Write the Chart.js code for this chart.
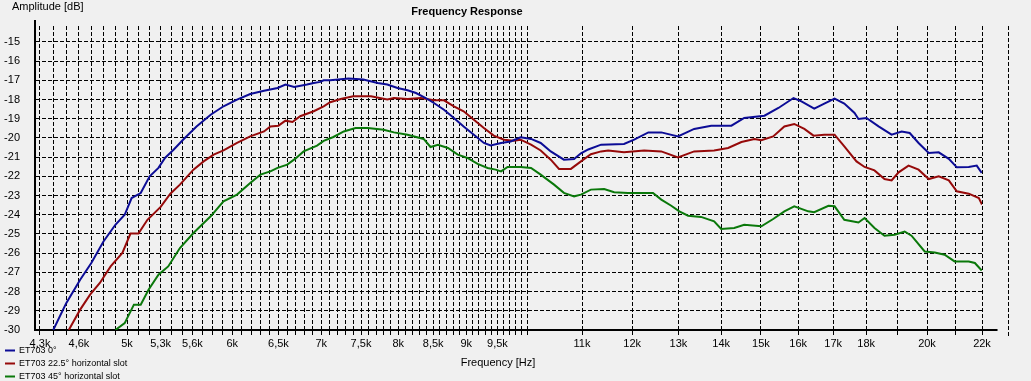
<!DOCTYPE html>
<html><head><meta charset="utf-8">
<script src="https://cdn.jsdelivr.net/npm/chart.js@4/dist/chart.umd.min.js"></script>
<style>html,body{margin:0;padding:0;background:#f0f0f0;}canvas{display:block;}</style>
</head><body>
<canvas id="c" width="1031" height="381"></canvas>
<script>
// ---- data ----
const seriesNames = ['ET703 0°', 'ET703 22.5° horizontal slot', 'ET703 45° horizontal slot'];

const freq0 = [4400,4500,4610,4700,4800,4900,4980,5040,5120,5200,5280,5340,5420,5510,5640,5780,5910,6050,6190,6340,6490,6580,6680,6830,6910,6990,7030,7110,7340,7530,7720,7850,7990,8130,8250,8390,8510,8660,8810,8960,9120,9280,9390,9560,9720,9890,10070,10240,10420,10660,10850,10980,11120,11370,11830,12040,12340,12620,12990,13360,13760,14250,14570,15090,15460,15870,16090,16450,16740,17040,17330,17640,17760,18010,18390,18810,19140,19410,19710,20060,20410,20770,21060,21500,21800,21990];
const db0   = [-30.0,-28.6,-27.38,-26.51,-25.39,-24.52,-24.0,-23.13,-22.87,-22.0,-21.56,-21.04,-20.61,-20.09,-19.40,-18.79,-18.35,-18.0,-17.71,-17.54,-17.40,-17.22,-17.34,-17.22,-17.14,-17.08,-17.0,-17.0,-16.90,-16.96,-17.14,-17.22,-17.40,-17.52,-17.66,-17.92,-18.18,-18.53,-18.96,-19.40,-19.83,-20.26,-20.39,-20.26,-20.18,-19.97,-20.05,-20.26,-20.70,-21.13,-21.10,-20.80,-20.60,-20.35,-20.31,-20.09,-19.71,-19.71,-19.92,-19.53,-19.36,-19.36,-18.96,-18.84,-18.44,-17.92,-18.09,-18.47,-18.21,-17.95,-18.21,-18.70,-19.01,-18.96,-19.40,-19.83,-19.66,-19.74,-20.26,-20.78,-20.75,-21.09,-21.53,-21.51,-21.44,-21.82];

const freq22 = [4520,4610,4690,4770,4860,4960,5030,5100,5180,5300,5390,5480,5610,5710,5810,5910,6050,6190,6340,6410,6500,6580,6660,6750,6910,7030,7110,7240,7400,7630,7850,7940,8130,8320,8510,8660,8810,8960,9120,9280,9440,9610,9770,9890,10070,10240,10420,10570,10790,10980,11170,11370,11510,11830,12250,12620,12990,13360,13830,14170,14500,14830,15010,15320,15620,15890,16170,16430,16740,17040,17330,17700,17950,18260,18580,18810,19040,19370,19710,20060,20410,20770,21060,21500,21880,22000];
const db22   = [-30.0,-28.94,-28.16,-27.55,-26.69,-25.99,-24.98,-24.98,-24.26,-23.59,-22.90,-22.43,-21.65,-21.22,-20.87,-20.65,-20.26,-19.92,-19.66,-19.40,-19.36,-19.10,-19.17,-18.87,-18.61,-18.35,-18.14,-17.97,-17.83,-17.83,-18.0,-17.92,-17.97,-17.92,-18.04,-18.04,-18.35,-18.61,-19.05,-19.48,-19.88,-20.09,-20.14,-20.09,-20.35,-20.65,-21.13,-21.61,-21.61,-21.22,-20.85,-20.70,-20.65,-20.75,-20.65,-20.70,-21.01,-20.70,-20.65,-20.52,-20.21,-20.05,-20.12,-19.92,-19.40,-19.27,-19.53,-19.88,-19.83,-19.83,-20.44,-21.22,-21.51,-21.69,-22.14,-22.21,-21.79,-21.44,-21.65,-22.14,-22.0,-22.21,-22.78,-22.90,-23.13,-23.47];

const freq45 = [4900,4980,5060,5120,5190,5280,5370,5480,5610,5780,5910,6050,6190,6300,6410,6490,6600,6690,6790,6950,7030,7150,7280,7430,7590,7800,7940,8130,8360,8460,8570,8720,8870,9020,9180,9340,9470,9560,9670,9890,10070,10240,10480,10660,10850,10980,11170,11430,11630,11910,12190,12440,12620,12840,13020,13220,13520,13830,14000,14320,14570,15010,15320,15620,15890,16280,16450,16860,17040,17330,17760,17950,18260,18580,18910,19240,19470,19920,20270,20620,20980,21500,21730,21990];
const db45   = [-30.0,-29.64,-28.68,-28.68,-27.90,-27.12,-26.69,-25.73,-24.95,-24.08,-23.30,-22.95,-22.34,-21.91,-21.74,-21.56,-21.39,-21.09,-20.70,-20.40,-20.15,-19.95,-19.66,-19.48,-19.48,-19.57,-19.71,-19.83,-20.05,-20.47,-20.35,-20.52,-20.87,-21.04,-21.35,-21.56,-21.65,-21.74,-21.51,-21.51,-21.56,-21.91,-22.43,-22.86,-23.04,-22.95,-22.69,-22.66,-22.83,-22.86,-22.86,-22.86,-23.21,-23.53,-23.82,-24.05,-24.11,-24.34,-24.74,-24.69,-24.52,-24.60,-24.22,-23.82,-23.56,-23.82,-23.87,-23.53,-23.56,-24.26,-24.40,-24.17,-24.69,-25.09,-25.04,-24.87,-25.09,-25.91,-25.96,-26.08,-26.43,-26.43,-26.51,-26.90];

// grid / tick positions on the frequency axis
const xGridTicks = [4300,4400,4500,4600,4700,4800,4900,5000,5100,5200,5300,5400,5500,5600,5700,5800,5900,6000,6100,6200,6300,6400,6500,6600,6700,6800,6900,7000,7100,7200,7300,7400,7500,7600,7700,7800,7900,8000,8100,8200,8300,8400,8500,8600,8700,8800,8900,9000,9100,9200,9300,9400,9500,9600,9700,9800,9900,10000,11000,12000,13000,14000,15000,16000,17000,18000,19000,20000,21000,22000];
const xLabelValues = [4300,4600,5000,5300,5600,6000,6500,7000,7500,8000,8500,9000,9500,11000,12000,13000,14000,15000,16000,17000,18000,20000,22000];
const xLabelTexts  = ['4,3k','4,6k','5k','5,3k','5,6k','6k','6,5k','7k','7,5k','8k','8,5k','9k','9,5k','11k','12k','13k','14k','15k','16k','17k','18k','20k','22k'];
const extraGridFreq = 23000;
const yTicks = [-30,-29,-28,-27,-26,-25,-24,-23,-22,-21,-20,-19,-18,-17,-16,-15];

const colors = ['#0c0c96', '#960a0a', '#0a780a'];
const FONT = '"Liberation Sans", Arial, sans-serif';

function pts(f, d) { return f.map((v, i) => ({x: v, y: d[i]})); }

const extras = {
  id: 'extras',
  beforeDraw(chart) {
    const ctx = chart.ctx;
    ctx.save();
    ctx.fillStyle = '#f0f0f0';
    ctx.fillRect(0, 0, chart.width, chart.height);
    ctx.restore();
  },
  afterDraw(chart) {
    const {ctx, chartArea: a, scales: {x}} = chart;
    ctx.save();
    // extra grid line beyond right edge
    const px = Math.round(x.getPixelForValue(extraGridFreq)) + 0.5;
    ctx.setLineDash([4, 2]);
    ctx.strokeStyle = '#000';
    ctx.lineWidth = 1;
    ctx.beginPath(); ctx.moveTo(px, a.top); ctx.lineTo(px, a.bottom + 6); ctx.stroke();
    // axis line extensions
    ctx.setLineDash([]);
    ctx.lineWidth = 2;
    const endX = x.getPixelForValue(22600);
    ctx.beginPath(); ctx.moveTo(a.right - 1, a.bottom); ctx.lineTo(endX, a.bottom); ctx.stroke();
    ctx.beginPath(); ctx.moveTo(a.left, a.top + 1); ctx.lineTo(a.left, a.top - 6); ctx.stroke();
    // texts
    ctx.fillStyle = '#000';
    ctx.textBaseline = 'middle';
    ctx.font = '11px ' + FONT;
    ctx.textAlign = 'left';
    ctx.fillText('Amplitude [dB]', 12, 7);
    ctx.textAlign = 'center';
    ctx.fillText('Frequency [Hz]', 498, 363);
    ctx.font = 'bold 11px ' + FONT;
    ctx.fillText('Frequency Response', 467, 12);
    // legend
    ctx.font = '9px ' + FONT;
    ctx.textAlign = 'left';
    chart.data.datasets.forEach((ds, i) => {
      const y = 350.5 + i * 13;
      ctx.strokeStyle = ds.borderColor;
      ctx.lineWidth = 2;
      ctx.beginPath(); ctx.moveTo(5, y); ctx.lineTo(15, y); ctx.stroke();
      ctx.fillStyle = '#000';
      ctx.fillText(ds.label, 19, y);
    });
    ctx.restore();
  }
};

new Chart(document.getElementById('c'), {
  type: 'line',
  data: {
    datasets: [
      {label: seriesNames[0], data: pts(freq0, db0), borderColor: colors[0]},
      {label: seriesNames[1], data: pts(freq22, db22), borderColor: colors[1]},
      {label: seriesNames[2], data: pts(freq45, db45), borderColor: colors[2]}
    ].map(d => Object.assign(d, {borderWidth: 2, pointRadius: 0, tension: 0, fill: false}))
  },
  options: {
    responsive: false,
    animation: false,
    events: [],
    layout: {padding: {top: 26, right: 49, bottom: 0, left: 0}},
    plugins: {legend: {display: false}, tooltip: {enabled: false}, title: {display: false}},
    scales: {
      x: {
        type: 'logarithmic',
        min: 4263, max: 22000,
        bounds: 'data',
        afterBuildTicks: s => { s.ticks = xGridTicks.map(v => ({value: v})); },
        afterFit: s => { s.height = 51; },
        grid: {color: '#000', lineWidth: 1, tickLength: 6, tickColor: '#000', tickBorderDash: [4, 2], borderDash: [4, 2]},
        border: {display: true, color: '#000', width: 2, dash: [4, 2]},
        ticks: {
          autoSkip: false, maxRotation: 0, minRotation: 0, padding: 1,
          color: '#000', font: {family: FONT, size: 11},
          callback: v => { const k = xLabelValues.indexOf(v); return k >= 0 ? xLabelTexts[k] : ''; }
        }
      },
      y: {
        type: 'linear',
        min: -30, max: -14.17,
        bounds: 'data',
        afterBuildTicks: s => { s.ticks = yTicks.map(v => ({value: v})); },
        afterFit: s => { s.width = 35; },
        grid: {color: '#000', lineWidth: 1, drawTicks: false, borderDash: [4, 2]},
        border: {display: true, color: '#000', width: 2, dash: [4, 2]},
        ticks: {padding: 15, color: '#000', font: {family: FONT, size: 11}, callback: v => String(v)}
      }
    }
  },
  plugins: [extras]
});
</script></body></html>
